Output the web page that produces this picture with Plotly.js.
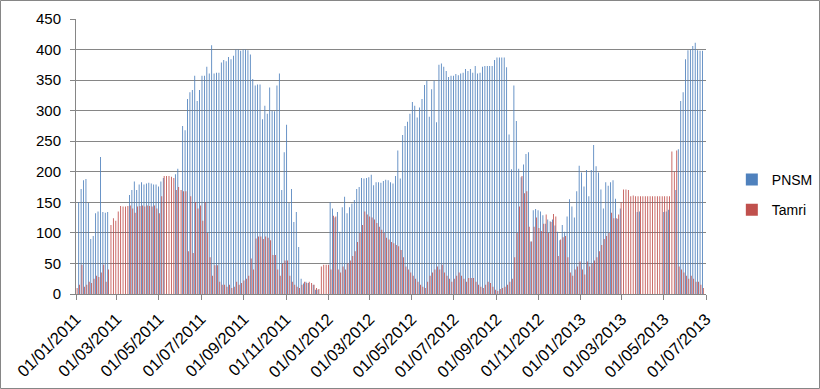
<!DOCTYPE html>
<html>
<head>
<meta charset="utf-8">
<script src="https://cdn.plot.ly/plotly-3.0.1.min.js"></script>
<style>
  html, body { margin: 0; padding: 0; background: #fff; }
  #chart { width: 820px; height: 389px; }
</style>
</head>
<body>
<div id="chart"></div>
<script>
// Series sampled twice a week (every 3.5 days) starting 02/01/2011
const seriesStart = '2011-01-02';
const stepDays = 3.5;

const pnsm2011 = [null,150,172,186,188,149,90,95,132,135,
  224,134,133,134,null,null,null,null,null,null,
  null,null,162,170,184,170,179,183,179,181,
  182,181,179,179,176,184,190,null,null,null,
  null,196,205,null,275,268,319,330,334,357,
  316,334,357,357,372,361,407,361,362,362,
  379,383,381,388,384,390,400,400,398,400,
  400,399,392,352,341,343,343,286,308,295,
  338,300,299,341,361,170,232,277,149,172,
  118,134,77,25,17,20,18,null,15,7,
  7,null,null,null];

const pnsm2012 = [null,150,140,125,134,102,142,159,132,142,
  148,154,172,175,190,189,190,191,195,178,
  183,183,182,185,187,186,183,181,193,235,
  189,260,275,282,295,314,308,289,305,319,
  342,349,290,335,349,281,375,377,372,365,
  355,357,357,360,358,361,362,368,365,368,
  362,373,361,362,372,373,373,373,373,383,
  387,387,387,387,371,261,204,341,283,205,
  191,212,229,232,86,137,139,137,135,129,
  115,122,119,122,112,102,88,113,102,127,
  155,143,125,168,210];

const pnsm2013 = [199,176,203,160,203,244,209,199,171,140,
  183,177,183,186,156,123,140,null,null,null,
  null,null,null,134,135,null,null,null,null,null,
  null,null,null,null,134,135,138,null,null,170,
  237,316,330,384,399,400,406,411,399,398,
  398];

const tamri2011 = [10,15,48,12,15,20,18,25,30,28,
  35,48,20,40,113,124,120,135,144,143,
  143,144,145,140,133,143,144,145,143,145,
  144,143,145,140,132,160,193,193,193,192,
  190,170,175,170,168,168,70,160,67,150,
  140,145,120,150,100,60,30,47,47,20,
  15,15,12,15,10,12,20,15,18,22,
  25,30,58,40,91,94,94,90,94,92,
  88,64,64,40,30,50,55,55,30,20,
  15,12,10,15,20,18,20,18,15,10,
  8,45,48,48];

const tamri2012 = [48,40,128,127,40,35,45,40,50,55,
  62,70,85,100,113,135,130,127,125,122,
  116,110,105,100,92,89,85,83,80,78,
  72,60,45,40,35,30,25,20,15,12,
  10,20,30,35,40,45,40,48,35,30,
  25,20,25,30,35,30,25,20,26,26,
  26,20,15,12,10,15,20,18,12,7,
  5,8,10,12,15,20,25,60,100,143,
  193,165,168,110,86,110,125,108,103,115,
  130,100,118,131,127,62,89,93,95,60,
  35,30,40,45,53];

const tamri2013 = [40,32,53,45,50,55,60,70,80,90,
  95,100,133,124,124,130,150,171,171,170,
  160,161,160,160,160,160,160,160,160,160,
  160,160,160,160,160,160,160,233,200,235,
  45,40,35,30,25,30,25,20,20,15,
  10];

const tickDates = ['2011-01-01','2011-03-01','2011-05-01','2011-07-01','2011-09-01',
  '2011-11-01','2012-01-01','2012-03-01','2012-05-01','2012-07-01','2012-09-01',
  '2012-11-01','2013-01-01','2013-03-01','2013-05-01','2013-07-01'];
const tickLabels = ['01/01/2011','01/03/2011','01/05/2011','01/07/2011','01/09/2011',
  '01/11/2011','01/01/2012','01/03/2012','01/05/2012','01/07/2012','01/09/2012',
  '01/11/2012','01/01/2013','01/03/2013','01/05/2013','01/07/2013'];

const pnsm = pnsm2011.concat(pnsm2012, pnsm2013);
const tamri = tamri2011.concat(tamri2012, tamri2013);
const stepMs = stepDays * 86400000;

const grid = '#868686';
const font = 'Liberation Sans, Arial, sans-serif';

const traces = [
  {type: 'bar', name: 'PNSM', x0: seriesStart, dx: stepMs, y: pnsm,
   marker: {color: '#4F81BD', line: {width: 0}}, legendgroup: 'a'},
  {type: 'bar', name: 'Tamri', x0: seriesStart, dx: stepMs, y: tamri,
   marker: {color: '#C0504D', line: {width: 0}}, legendgroup: 'b'}
];

const W = 630, H = 275;
const layout = {
  width: 820, height: 389,
  margin: {l: 76, r: 114, t: 19, b: 95, pad: 0, autoexpand: false},
  paper_bgcolor: '#fff', plot_bgcolor: '#fff',
  barmode: 'group', bargap: 0.3, bargroupgap: 0,
  showlegend: true,
  legend: {x: 1.041, xanchor: 'left', y: 0.36, yanchor: 'middle',
    font: {family: font, size: 14, color: '#000'},
    traceorder: 'grouped', tracegroupgap: 9, bgcolor: 'rgba(0,0,0,0)'},
  xaxis: {
    type: 'date', range: ['2011-01-01', '2013-07-01'],
    tickmode: 'array', tickvals: tickDates, ticktext: tickLabels,
    tickangle: -45, ticks: 'outside', ticklen: 5, tickcolor: grid,
    ticklabelstandoff: 3,
    showline: true, linecolor: grid, linewidth: 1,
    showgrid: false, zeroline: false, automargin: false,
    tickfont: {family: font, size: 16.5, color: '#000'}
  },
  yaxis: {
    range: [0, 450], tick0: 0, dtick: 50,
    ticks: 'outside', ticklen: 5, tickcolor: grid,
    ticklabelstandoff: 6,
    showline: true, linecolor: grid, linewidth: 1,
    showgrid: true, gridcolor: grid, gridwidth: 1, zeroline: false, automargin: false,
    tickfont: {family: font, size: 15, color: '#000'}
  },
  shapes: [{
    type: 'rect', xref: 'paper', yref: 'paper',
    x0: (0.5 - 76) / W, x1: (819.5 - 76) / W,
    y0: (294 - 388.5) / H, y1: (294 - 0.5) / H,
    line: {color: grid, width: 1}, fillcolor: 'rgba(0,0,0,0)'
  }]
};

Plotly.newPlot('chart', traces, layout, {displayModeBar: false, staticPlot: true});
</script>
</body>
</html>
